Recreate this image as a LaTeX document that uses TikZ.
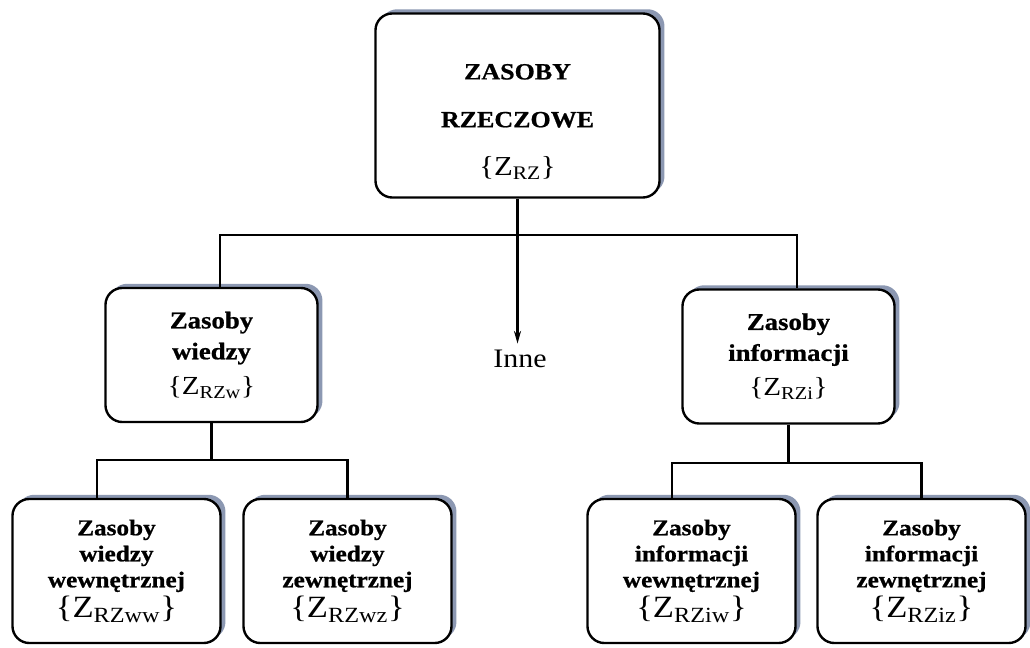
\documentclass[tikz,border=0pt]{standalone}
\usetikzlibrary{positioning,arrows.meta,shadows}
\usepackage{fontspec}
\setmainfont{Liberation Serif}[FakeStretch=1.12, BoldFeatures={FakeBold=0.8}]
\definecolor{shadowgray}{RGB}{140,152,178}

\begin{document}
\begin{tikzpicture}[
    x=0.025cm, y=-0.025cm,
    topbox/.style={draw, line width=1.7pt, rounded corners=12pt, fill=white, drop shadow={shadow xshift=3.5pt, shadow yshift=3pt, fill=shadowgray, opacity=1}, minimum width=7.1cm, minimum height=4.6cm, align=center, font=\fontsize{16.5}{34}\selectfont},
    midbox/.style={topbox, minimum width=5.3cm, minimum height=3.35cm, font=\fontsize{17}{22}\selectfont},
    lowbox/.style={topbox, minimum width=5.2cm, minimum height=3.6cm, font=\fontsize{16}{18.5}\selectfont},
    link/.style={line width=1.5pt},
    other/.style={font=\fontsize{19}{22}\selectfont, inner sep=1pt}
  ]
    \useasboundingbox (0,0) rectangle (1030,648);

    % Top level.
    \node[topbox] (zrz) at (517.5,105.5) {\rule{0pt}{34pt}\textbf{ZASOBY}\\\textbf{RZECZOWE}\\{\fontsize{19.5}{22}\selectfont\{Z\textsubscript{RZ}\}}};

    % Second level.
    \node[midbox] (zrzw) at (211.5,355) {\textbf{Zasoby}\\\textbf{wiedzy}\\[3pt]{\fontsize{18.5}{22}\selectfont\{Z\textsubscript{RZw}\}}};
    \node[midbox] (zrzi) at (788.5,356.5) {\textbf{Zasoby}\\\textbf{informacji}\\[3pt]{\fontsize{18.5}{22}\selectfont\{Z\textsubscript{RZi}\}}};
    \node[other, anchor=base] (inne) at (520,367) {Inne};

    % Third level.
    \node[lowbox] (zrzww) at (116.5,571) {\textbf{Zasoby}\\\textbf{wiedzy}\\\textbf{wewnętrznej}\\[2pt]{\fontsize{22}{22}\selectfont\{Z\textsubscript{RZww}\}}};
    \node[lowbox] (zrzwz) at (347.5,571) {\textbf{Zasoby}\\\textbf{wiedzy}\\\textbf{zewnętrznej}\\[2pt]{\fontsize{22}{22}\selectfont\{Z\textsubscript{RZwz}\}}};
    \node[lowbox] (zrziw) at (691.5,571) {\textbf{Zasoby}\\\textbf{informacji}\\\textbf{wewnętrznej}\\[2pt]{\fontsize{22}{22}\selectfont\{Z\textsubscript{RZiw}\}}};
    \node[lowbox] (zrziz) at (921.5,571) {\textbf{Zasoby}\\\textbf{informacji}\\\textbf{zewnętrznej}\\[2pt]{\fontsize{22}{22}\selectfont\{Z\textsubscript{RZiz}\}}};

    % Branch points.
    \coordinate (forkrz) at (517.5,235);
    \coordinate (forkw) at (211.5,460);
    \coordinate (forki) at (788.5,463);

    % Connectors from the top box.
    \draw[link] (zrz.south) -- (forkrz);
    \draw[link] (forkrz) -| ([xshift=0.21cm]zrzw.north);
    \draw[link] (forkrz) -| ([xshift=0.21cm]zrzi.north);
    \draw[link, -{Stealth[length=9pt,width=5pt]}] (forkrz) -- ([yshift=3pt]zrz.south |- inne.north);

    % Connectors to the third level.
    \draw[link] (zrzw.south) -- (forkw);
    \draw[link] (forkw) -| ([xshift=-0.49cm]zrzww.north);
    \draw[link] (forkw) -| (zrzwz.north);
    \draw[link] (zrzi.south) -- (forki);
    \draw[link] (forki) -| ([xshift=-0.49cm]zrziw.north);
    \draw[link] (forki) -| (zrziz.north);
  \end{tikzpicture}
\end{document}
